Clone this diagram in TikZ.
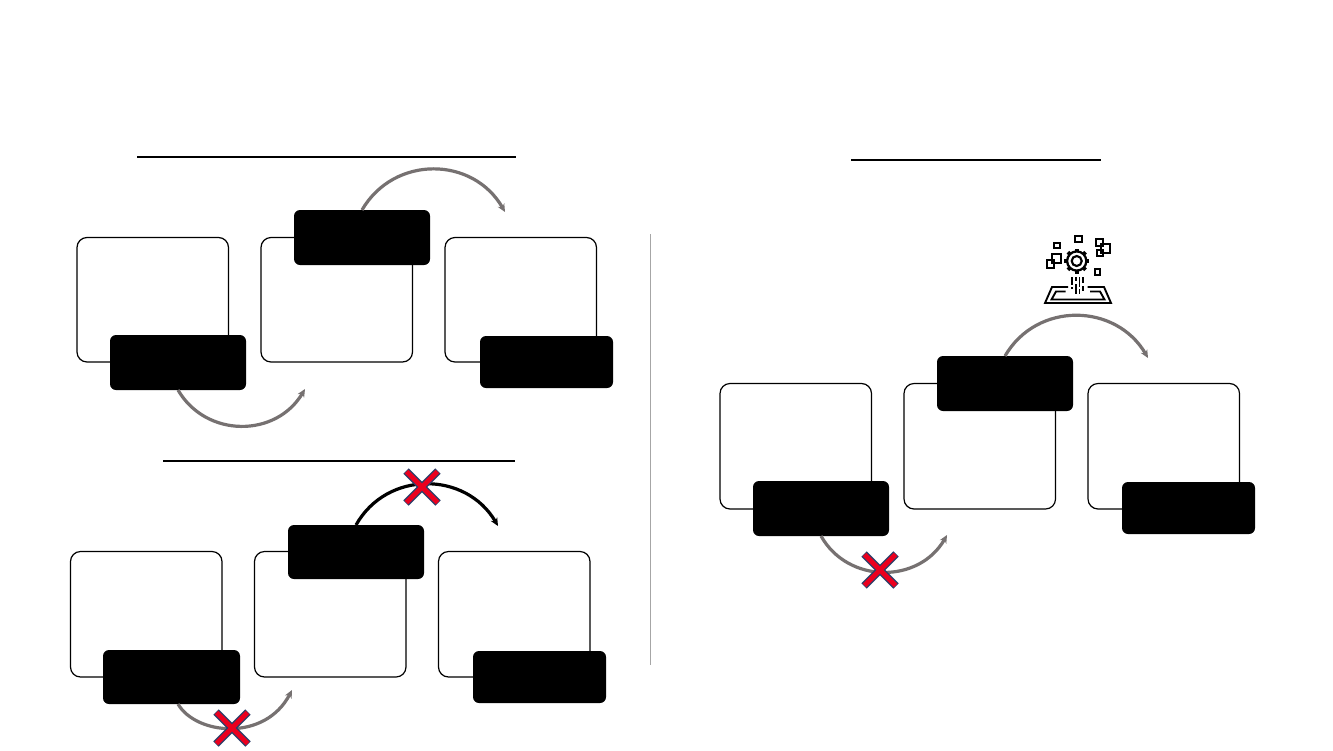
\documentclass[tikz,border=0pt]{standalone}
\usetikzlibrary{arrows.meta}
\definecolor{arcgray}{RGB}{118,113,113}
\definecolor{xnavy}{RGB}{47,62,105}
\definecolor{xred}{RGB}{235,0,30}
\tikzset{
  x=0.75pt,y=-0.75pt,
  card/.style={draw=black,line width=0.9pt,rounded corners=7.5pt,fill=white,inner sep=0pt,outer sep=0pt},
  tag/.style={fill=black,rounded corners=4.5pt,inner sep=0pt,outer sep=0pt},
  rule/.style={draw=black,line width=1.1pt},
  arc/.style={draw=arcgray,line width=2.4pt,-{Stealth[length=6pt,width=5.5pt]}},
  arcblack/.style={draw=black,line width=2.4pt,-{Stealth[length=6pt,width=5.5pt]}},
  icon/.style={draw=black,line width=1.5pt},
}
\newcommand{\cardat}[5]{\node[card,minimum width=#4*0.75pt,minimum height=#5*0.75pt,anchor=north west] (#1) at (#2,#3) {};}
\newcommand{\tagat}[5]{\node[tag,minimum width=#4*0.75pt,minimum height=#5*0.75pt,anchor=north west] (#1) at (#2,#3) {};}
\newcommand{\crossat}[3]{%
  \coordinate (#1) at (#2,#3);
  \draw[xnavy,line width=5.6pt] ([shift={(-16,-16)}]#1) -- ([shift={(16,16)}]#1) ([shift={(-16,16)}]#1) -- ([shift={(16,-16)}]#1);
  \draw[xred,line width=3.6pt] ([shift={(-15.5,-15.5)}]#1) -- ([shift={(15.5,15.5)}]#1) ([shift={(-15.5,15.5)}]#1) -- ([shift={(15.5,-15.5)}]#1);}
\begin{document}
\begin{tikzpicture}
\useasboundingbox (0,0) rectangle (1333,750);
\fill[white] (0,0) rectangle (1333,750);
% rules
\coordinate (r1a) at (137,157); \coordinate (r1b) at (516,157);
\coordinate (r2a) at (163,461); \coordinate (r2b) at (515,461);
\coordinate (r3a) at (851,160); \coordinate (r3b) at (1101,160);
\coordinate (va) at (650.5,234); \coordinate (vb) at (650.5,665);
\draw[rule] (r1a) -- (r1b);
\draw[rule] (r2a) -- (r2b);
\draw[rule] (r3a) -- (r3b);
\draw[draw=black!35,line width=0.8pt] (va) -- (vb);
% panel 1
\cardat{a1}{77}{237.5}{151.5}{124.5}
\cardat{a2}{261}{237.5}{151.5}{124.5}
\cardat{a3}{445}{237.5}{151.5}{124.5}
\tagat{at1}{110}{335}{136}{55}
\tagat{at2}{294}{210}{136}{55}
\tagat{at3}{480}{336}{133}{52}
\coordinate (ae1) at (505,212);
\coordinate (ae2) at (305,389);
\draw[arc] (at2.north) .. controls (394,155) and (473,156) .. (ae1);
\draw[arc] (at1.south) .. controls (206,438) and (276,438) .. (ae2);
% panel 2
\cardat{b1}{70.5}{551.5}{151.5}{125.5}
\cardat{b2}{254.5}{551.5}{151.5}{125.5}
\cardat{b3}{438.5}{551.5}{151.5}{125.5}
\tagat{bt1}{103}{650}{137}{54}
\tagat{bt2}{288}{525}{136}{54}
\tagat{bt3}{473}{651}{133}{52}
\coordinate (be1) at (498,526);
\coordinate (be2) at (292,690);
\draw[arcblack] (bt2.north) .. controls (387,470) and (466,471) .. (be1);
\draw[arc] ([xshift=6.5*0.75pt]bt1.south) .. controls (196,735) and (265,742) .. (be2);
% panel 3
\cardat{c1}{720}{383.5}{151.5}{125.5}
\cardat{c2}{904}{383.5}{151.5}{125.5}
\cardat{c3}{1088}{383.5}{151.5}{125.5}
\tagat{ct1}{753}{481}{136}{55}
\tagat{ct2}{937}{356}{136}{55}
\tagat{ct3}{1122}{482}{133}{52}
\coordinate (ce1) at (1148,358);
\coordinate (ce2) at (947,535);
\draw[arc] (ct2.north) .. controls (1037,301) and (1116,303) .. (ce1);
\draw[arc] (ct1.south) .. controls (848,584) and (919,584) .. (ce2);
% crosses
\crossat{x1}{422}{487}
\crossat{x2}{232}{728}
\crossat{x3}{880}{570}
% icon
\begin{scope}[shift={(1030,225)}]
  % floating squares
  \draw[icon] (23.5,17.5) rectangle (29.5,23);
  \draw[icon] (45,10.5) rectangle (51.5,17);
  \draw[icon] (66,14) rectangle (72.5,20.5);
  \draw[icon] (71,18.5) rectangle (80,27.5);
  \draw[icon] (67,24.5) rectangle (72.5,30.5);
  \draw[icon] (17,34.5) rectangle (24,42.5);
  \draw[icon] (21.5,28.5) rectangle (30.5,37.5);
  \draw[icon] (65,43.5) rectangle (70,49.5);
  % gear
  \foreach \a in {0,45,...,315}{
    \draw[black,line width=2.8pt] ([shift={(\a:9.5)}]46.7,36) -- ([shift={(\a:12.5)}]46.7,36);
  }
  \draw[black,line width=1.7pt,fill=white] (46.7,36) circle (9.6);
  \draw[black,line width=1.6pt,fill=white] (46.7,36) circle (5);
  % dashes
  \draw[black,line width=1.1pt] (42,52)--(42,60) (42,62)--(42,64);
  \draw[black,line width=1.1pt] (46,52)--(46,56) (46,59)--(46,69);
  \draw[black,line width=1.1pt] (49.5,52)--(49.5,62) (49.5,64)--(49.5,69);
  \draw[black,line width=1.1pt] (53,52)--(53,58) (53,61)--(53,66);
  % platform
  \draw[black,line width=1.4pt,line join=miter] (38,62)--(22,62)--(15,78)--(81,78)--(74,62)--(57.5,62);
  \draw[black,line width=1.4pt] (35.5,66.5)--(26,66.5)--(21.5,74.5)--(74.5,74.5)--(70,66.5)--(60,66.5);
\end{scope}
\end{tikzpicture}
\end{document}
